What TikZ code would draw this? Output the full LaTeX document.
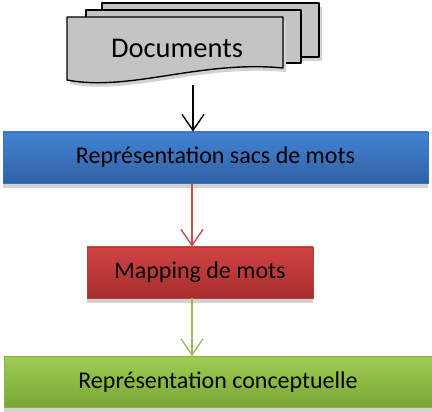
\documentclass[tikz,border=0pt]{standalone}
\usepackage{fontspec}
\setmainfont{Carlito}
\usetikzlibrary{arrows.meta}

\definecolor{blueTop}{HTML}{4283D2}
\definecolor{blueBot}{HTML}{3162A6}
\definecolor{blueEdge}{HTML}{3A70B8}
\definecolor{redTop}{HTML}{D24444}
\definecolor{redBot}{HTML}{A62E2E}
\definecolor{redEdge}{HTML}{B83A3A}
\definecolor{greenTop}{HTML}{9FCD52}
\definecolor{greenBot}{HTML}{77A636}
\definecolor{greenEdge}{HTML}{86B444}
\definecolor{sheet}{HTML}{C4C4C4}
\definecolor{shadowgray}{HTML}{D2D2D2}
\definecolor{redLine}{HTML}{C0504D}
\definecolor{greenLine}{HTML}{9BBB59}

\tikzset{
  flowbox/.style={draw=#1Edge, line width=0.8pt, top color=#1Top, bottom color=#1Bot,
    minimum height=51pt, inner sep=0pt, font=\fontsize{24}{28}\selectfont,
    text=black},
  boxshadow/.style={fill=shadowgray, draw=none},
  sheetstyle/.style={fill=sheet, draw=black, line width=1.4pt, line join=round},
  flowarrow/.style={line width=1.4pt, -{Straight Barb[length=16pt,width=22pt,line width=1.4pt]}},
}

\begin{document}
\begin{tikzpicture}[x=1pt, y=-1pt]
  \useasboundingbox (0,0) rectangle (432,412);

  % stacked sheets behind the document
  \fill[shadowgray] (105,7) rectangle (322,61);
  \draw[sheetstyle] (102,3) rectangle (319,57);
  \draw[sheetstyle] (86,10) rectangle (301,63);
  % front sheet with wavy lower edge
  \fill[shadowgray] (70,21) -- (286,21) -- (286,72)
     .. controls (200,64) and (130,96) .. (70,84) -- cycle;
  \draw[sheetstyle] (67,17) -- (283,17) -- (283,68)
     .. controls (200,60) and (130,92) .. (67,80) -- cycle;
  \node[font=\fontsize{28.5}{32}\selectfont, inner sep=0pt] (docs) at (177,48) {Documents};
  \coordinate (docsout) at (193,85);
  \coordinate (axis) at (192,0);

  % boxes with their drop shadows
  \fill[boxshadow] (3,183) rectangle (428,188);
  \node[flowbox=blue, minimum width=425pt] (bag) at (215.5,157.5) {Représentation sacs de mots};

  \fill[boxshadow] (87,298) rectangle (313,303);
  \node[flowbox=red, minimum width=226pt] (map) at (200,272.5) {Mapping de mots};

  \fill[boxshadow] (4,407) rectangle (432,412);
  \node[flowbox=green, minimum width=428pt] (concept) at (218,382) {Représentation conceptuelle};

  % connectors
  \draw[flowarrow, black] (docsout) -- (docsout |- bag.north);
  \draw[flowarrow, redLine] (bag.south -| axis) -- (map.north -| axis);
  \draw[flowarrow, greenLine] (map.south -| axis) -- (concept.north -| axis);
\end{tikzpicture}
\end{document}
